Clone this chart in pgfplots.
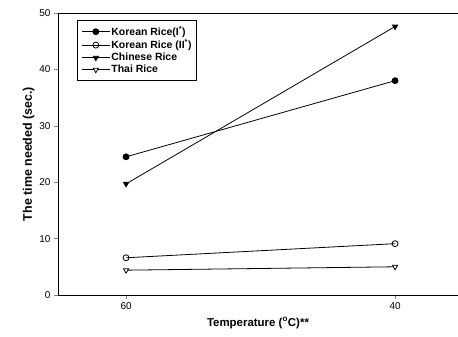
\documentclass[border=0pt]{standalone}
\usepackage{fontspec}
\setmainfont{Liberation Sans}
\usepackage{pgfplots}
\pgfplotsset{compat=1.18}
\begin{document}
\begin{tikzpicture}
\begin{axis}[name=ax,
  scale only axis, width=400bp, height=282bp,
  xmin=-0.253, xmax=1.234, ymin=0, ymax=50,
  xtick={0,1}, xticklabels={60,40},
  ytick={0,10,20,30,40,50},
  tick align=outside, xtick pos=bottom, ytick pos=left,
  major tick length=4bp,
  tick label style={font=\fontsize{10}{11}\selectfont},
  /pgf/number format/assume math mode=true,
  xlabel={\textbf{Temperature (\textsuperscript{o}C)**}},
  ylabel={\textbf{The time needed (sec.)}},
  xlabel style={font=\fontsize{11.5}{13}\selectfont, yshift=-1bp},
  ylabel style={font=\fontsize{12.5}{14}\selectfont, yshift=-2bp},
  axis line style={line width=0.8pt},
  every axis plot/.append style={black, line width=0.8pt, mark size=3pt},
  legend style={at={(0.048,0.975)}, anchor=north west, draw=black, line width=0.5pt,
    font=\bfseries\fontsize{10.5}{11.5}\selectfont, row sep=0.5pt, inner xsep=4pt, inner ysep=5pt,
    nodes={inner sep=1.2pt}},
  legend image code/.code={\draw[mark repeat=2,mark phase=2] plot coordinates {(0bp,0bp) (14bp,0bp) (28bp,0bp)};},
  legend cell align=left,
]
\addplot[mark=*, mark options={fill=black}] coordinates {(0,24.5) (1,38.0)};
\addlegendentry{Korean Rice(I\textsuperscript{*})}
\addplot[mark=o, mark options={fill=white}] coordinates {(0,6.6) (1,9.1)};
\addlegendentry{Korean Rice (II\textsuperscript{*})}
\addplot[mark=triangle*, mark options={fill=black, rotate=180}] coordinates {(0,19.7) (1,47.6)};
\addlegendentry{Chinese Rice}
\addplot[mark=triangle*, mark options={fill=white, rotate=180}] coordinates {(0,4.4) (1,5.0)};
\addlegendentry{Thai Rice}
\end{axis}
\pgfresetboundingbox
\path ([xshift=-58bp,yshift=-42bp]ax.south west) rectangle ([yshift=13bp]ax.north east);
\end{tikzpicture}
\end{document}
